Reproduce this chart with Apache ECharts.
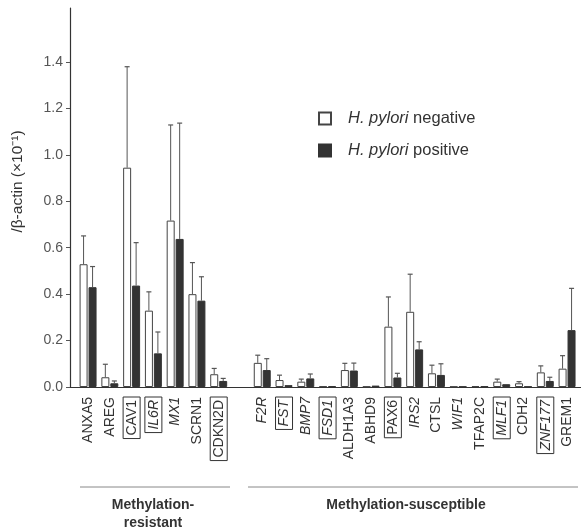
<!DOCTYPE html>
<html><head><meta charset="utf-8">
<script src="https://cdn.jsdelivr.net/npm/echarts@6/dist/echarts.min.js"></script>
<style>html,body{margin:0;padding:0;background:#fff}#c{width:581px;height:529px}</style>
</head><body><div id="c"></div>
<script>
var categories = ['ANXA5','AREG','CAV1','IL6R','MX1','SCRN1','CDKN2D','','F2R','FST','BMP7','FSD1','ALDH1A3','ABHD9','PAX6','IRS2','CTSL','WIF1','TFAP2C','MLF1','CDH2','ZNF177','GREM1'];
var boxedLabels = ['CAV1','IL6R','CDKN2D','FST','FSD1','PAX6','MLF1','ZNF177'];
var italicLabels = ['IL6R','MX1','F2R','FST','BMP7','FSD1','IRS2','WIF1','MLF1','ZNF177'];
var negMean = [0.529,0.042,0.945,0.329,0.717,0.400,0.055,null,0.104,0.030,0.023,0.003,0.073,0.002,0.260,0.324,0.059,0.002,0.004,0.023,0.016,0.063,0.079];
var negSD   = [0.122,0.056,0.435,0.081,0.412,0.136,0.025,null,0.033,0.021,0.011,0,0.029,0,0.128,0.162,0.035,0,0,0.011,0.007,0.028,0.056];
var posMean = [0.430,0.016,0.437,0.145,0.638,0.372,0.026,null,0.073,0.008,0.037,0.003,0.071,0.006,0.041,0.162,0.052,0.002,0.003,0.012,0.002,0.026,0.245];
var posSD   = [0.089,0.010,0.185,0.092,0.499,0.103,0.011,null,0.049,0,0.019,0,0.032,0,0.018,0.033,0.048,0,0,0,0,0.016,0.180];
var yTicks = [0,0.2,0.4,0.6,0.8,1.0,1.2,1.4];
var seriesNames = ['H. pylori negative','H. pylori positive'];
var groupNames = ['Methylation-\nresistant','Methylation-susceptible'];

function pairs(arr){var o=[];arr.forEach(function(v,i){if(v!==null)o.push([i,v]);});return o;}
function errData(m,s){var o=[];m.forEach(function(v,i){if(v!==null&&s[i]>0)o.push([i,v,v+s[i]]);});return o;}
var labelIdx=[];categories.forEach(function(c,i){if(c)labelIdx.push(i);});

function errRender(off){
  return function(params,api){
    var x=api.value(0);
    var p0=api.coord([x,api.value(1)]);
    var p1=api.coord([x,api.value(2)]);
    var cx=p0[0]+off;
    return {type:'group',children:[
      {type:'line',shape:{x1:cx,y1:p0[1],x2:cx,y2:p1[1]},style:{stroke:'#555',lineWidth:1}},
      {type:'line',shape:{x1:cx-2.5,y1:p1[1],x2:cx+2.5,y2:p1[1]},style:{stroke:'#555',lineWidth:1.2}}
    ]};
  };
}

var font='"Liberation Sans", Arial, sans-serif';
var chart=echarts.init(document.getElementById('c'),null,{renderer:'canvas'});
chart.setOption({
  animation:false,
  backgroundColor:'#fff',
  grid:{left:70,right:0,top:8,bottom:142,containLabel:false},
  legend:{
    left:318, top:110, padding:0, orient:'vertical', itemWidth:12, itemHeight:12, itemGap:15,
    icon:'rect', data:seriesNames,
    formatter:function(n){return n.replace('H. pylori','{i|H. pylori}');},
    textStyle:{fontFamily:font,fontSize:16.5,lineHeight:17,color:'#333',padding:[0,0,0,12],
      rich:{i:{fontFamily:font,fontSize:16.5,lineHeight:17,fontStyle:'italic',color:'#333'}}}
  },
  xAxis:{
    type:'value', min:-0.83, max:22.64,
    axisLine:{show:true,onZero:true,lineStyle:{color:'#333',width:1.2}},
    axisTick:{show:false}, splitLine:{show:false},
    axisLabel:{
      customValues:labelIdx, rotate:90, margin:10, interval:0,
      fontFamily:font, fontSize:14, color:'#333',
      formatter:function(v){
        var n=categories[Math.round(v)]||'';
        var b=boxedLabels.indexOf(n)>=0, it=italicLabels.indexOf(n)>=0;
        var k=(b?'b':'')+(it?'i':'n');
        return '{'+k+'|'+n+'}';
      },
      rich:{
        n:{fontFamily:font,fontSize:14,color:'#333'},
        i:{fontFamily:font,fontSize:14,color:'#333',fontStyle:'italic'},
        bn:{fontFamily:font,fontSize:14,color:'#333',borderColor:'#333',borderWidth:1,padding:[2,3,1,3]},
        bi:{fontFamily:font,fontSize:14,color:'#333',fontStyle:'italic',borderColor:'#333',borderWidth:1,padding:[2,3,1,3]}
      }
    }
  },
  yAxis:{
    type:'value', min:0, max:1.633,
    name:'/β-actin (×10⁻¹)', nameLocation:'middle', nameGap:44, nameRotate:90,
    nameTextStyle:{fontFamily:font,fontSize:15.5,color:'#333',padding:[0,0,0,32]},
    axisLine:{show:true,onZero:false,lineStyle:{color:'#333',width:1.2}},
    axisTick:{show:true,length:4,customValues:yTicks,lineStyle:{color:'#555'}},
    splitLine:{show:false},
    axisLabel:{customValues:yTicks,margin:7,fontFamily:font,fontSize:14,color:'#555',
      formatter:function(v){return v.toFixed(1);}}
  },
  series:[
    {name:seriesNames[0],type:'bar',data:pairs(negMean),barWidth:8,barGap:'12%',
     itemStyle:{color:'#fff',borderColor:'#444',borderWidth:1}},
    {name:seriesNames[1],type:'bar',data:pairs(posMean),barWidth:8,barGap:'12%',
     itemStyle:{color:'#333',borderColor:'#333',borderWidth:1}},
    {type:'custom',renderItem:errRender(-4.5),data:errData(negMean,negSD),z:3,silent:true},
    {type:'custom',renderItem:errRender(4.5),data:errData(posMean,posSD),z:3,silent:true}
  ],
  graphic:[
    {type:'line',shape:{x1:80,y1:487,x2:230,y2:487},style:{stroke:'#888',lineWidth:1}},
    {type:'line',shape:{x1:248,y1:487,x2:578,y2:487},style:{stroke:'#888',lineWidth:1}},
    {type:'text',x:153,y:496,style:{text:groupNames[0],font:'bold 14px '+font,fill:'#333',align:'center',verticalAlign:'top',lineHeight:18}},
    {type:'text',x:406,y:496,style:{text:groupNames[1],font:'bold 14px '+font,fill:'#333',align:'center',verticalAlign:'top',lineHeight:18}}
  ]
});
</script></body></html>
